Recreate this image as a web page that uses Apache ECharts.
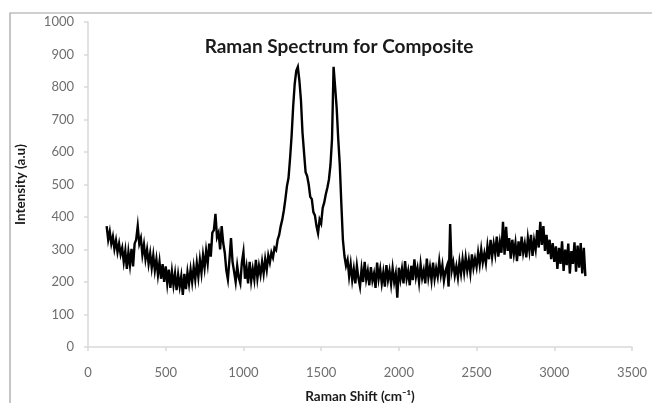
<!DOCTYPE html>
<html>
<head>
<meta charset="utf-8">
<script src="https://cdn.jsdelivr.net/npm/echarts@6/dist/echarts.min.js"></script>
<style>
  html, body { margin: 0; padding: 0; background: #ffffff; }
  #chart { width: 652px; height: 403px; }
</style>
</head>
<body>
<div id="chart"></div>
<script>
// Raman shift grid (cm-1): first point and spacing of the recorded spectrum
const shiftStart = 120;
const shiftStep = 10;

// intensity (a.u.), one row per 100 cm-1
const intensity = [
  372, 330, 355, 318, 340, 302, 328, 292, 318, 285, // 120-210
  305, 262, 296, 240, 292, 252, 302, 248, 318, 330, // 220-310
  372, 318, 335, 284, 315, 270, 300, 256, 288, 244, // 320-410
  282, 236, 270, 222, 262, 210, 255, 200, 248, 195, // 420-510
  238, 182, 232, 190, 226, 175, 222, 186, 218, 160, // 520-610
  225, 178, 230, 195, 238, 200, 246, 208, 258, 216, // 620-710
  268, 228, 282, 244, 296, 258, 318, 278, 352, 360, // 720-810
  410, 338, 352, 300, 372, 320, 290, 236, 208, 268, // 820-910
  335, 262, 232, 200, 250, 214, 196, 260, 292, 210, // 920-1010
  245, 196, 262, 204, 240, 208, 268, 212, 250, 222, // 1020-1110
  262, 226, 270, 238, 282, 260, 290, 275, 305, 298, // 1120-1210
  330, 345, 372, 392, 420, 455, 495, 520, 580, 650, // 1220-1310
  740, 810, 850, 862, 820, 760, 660, 598, 538, 526, // 1320-1410
  500, 462, 455, 415, 405, 372, 350, 392, 380, 428, // 1420-1510
  445, 470, 490, 515, 560, 640, 862, 800, 735, 640, // 1520-1610
  560, 440, 330, 280, 250, 268, 218, 255, 206, 240, // 1620-1710
  196, 250, 212, 186, 240, 200, 262, 208, 234, 190, // 1720-1810
  246, 204, 226, 182, 260, 210, 240, 196, 230, 186, // 1820-1910
  252, 206, 234, 194, 242, 200, 226, 152, 244, 208, // 1920-2010
  240, 196, 264, 210, 234, 190, 250, 206, 270, 216, // 2020-2110
  242, 200, 254, 212, 236, 196, 272, 214, 246, 206, // 2120-2210
  260, 210, 242, 216, 264, 222, 252, 204, 234, 250, // 2220-2310
  186, 378, 235, 260, 220, 248, 214, 262, 226, 270, // 2320-2410
  230, 275, 236, 268, 228, 285, 244, 272, 246, 290, // 2420-2510
  254, 300, 260, 288, 258, 310, 270, 330, 278, 318, // 2520-2610
  286, 340, 278, 322, 290, 385, 284, 370, 296, 335, // 2620-2710
  272, 330, 286, 320, 264, 325, 280, 340, 290, 318, // 2720-2810
  276, 335, 296, 345, 280, 328, 300, 360, 306, 385, // 2820-2910
  314, 372, 296, 345, 286, 330, 270, 320, 262, 310, // 2920-3010
  240, 305, 256, 325, 234, 300, 252, 318, 226, 295, // 3020-3110
  256, 322, 232, 312, 244, 320, 226, 305, 218        // 3120-3200
];

const xTicks = [0, 500, 1000, 1500, 2000, 2500, 3000, 3500];
const yTicks = [0, 100, 200, 300, 400, 500, 600, 700, 800, 900, 1000];

const titleText = "Raman Spectrum for Composite";
const xName = "Raman Shift (cm\u207B\u00B9)";
const yName = "Intensity (a.u)";

const points = intensity.map((v, i) => [shiftStart + i * shiftStep, v]);

const chart = echarts.init(document.getElementById("chart"), null, { renderer: "canvas" });

const axisGray = "#d9d9d9";
const labelGray = "#6e6e6e";
const font = "Lato, 'Open Sans', sans-serif";

chart.setOption({
  animation: false,
  backgroundColor: "#ffffff",
  graphic: [{
    type: "rect",
    shape: { x: 10, y: 13, width: 700, height: 500 },
    style: { fill: "none", stroke: "#a0a0a0", lineWidth: 1.2 },
    silent: true,
    z: 0,
  }],
  title: {
    text: titleText,
    left: 334,
    top: 32,
    textAlign: "center",
    textStyle: { fontFamily: font, fontWeight: "bold", fontSize: 19, color: "#1a1a1a" },
  },
  grid: { left: 88, right: 20, top: 22, bottom: 56, containLabel: false, outerBoundsMode: "none" },
  xAxis: {
    type: "value",
    min: xTicks[0],
    max: xTicks[xTicks.length - 1],
    interval: 500,
    name: xName,
    nameLocation: "middle",
    nameGap: 43,
    nameTextStyle: { fontFamily: font, fontWeight: "bold", fontSize: 13.5, color: "#1a1a1a" },
    axisLine: { show: true, lineStyle: { color: axisGray, width: 1.5 } },
    axisTick: { show: true, length: 4, lineStyle: { color: axisGray, width: 1.5 } },
    axisLabel: { margin: 19, fontFamily: font, fontSize: 13, color: labelGray, formatter: (v) => String(v) },
    splitLine: { show: false },
  },
  yAxis: {
    type: "value",
    min: yTicks[0],
    max: yTicks[yTicks.length - 1],
    interval: 100,
    name: yName,
    nameLocation: "middle",
    nameGap: 60,
    nameTextStyle: { fontFamily: font, fontWeight: "bold", fontSize: 13.5, color: "#1a1a1a" },
    axisLine: { show: true, lineStyle: { color: axisGray, width: 1.5 } },
    axisTick: { show: true, length: 4, lineStyle: { color: axisGray, width: 1.5 } },
    axisLabel: { margin: 14, fontFamily: font, fontSize: 13, color: labelGray, formatter: (v) => String(v) },
    splitLine: { show: false },
  },
  series: [{
    type: "line",
    data: points,
    showSymbol: false,
    lineStyle: { color: "#000000", width: 2.4, join: "miter" },
    z: 3,
  }],
});
</script>
</body>
</html>
